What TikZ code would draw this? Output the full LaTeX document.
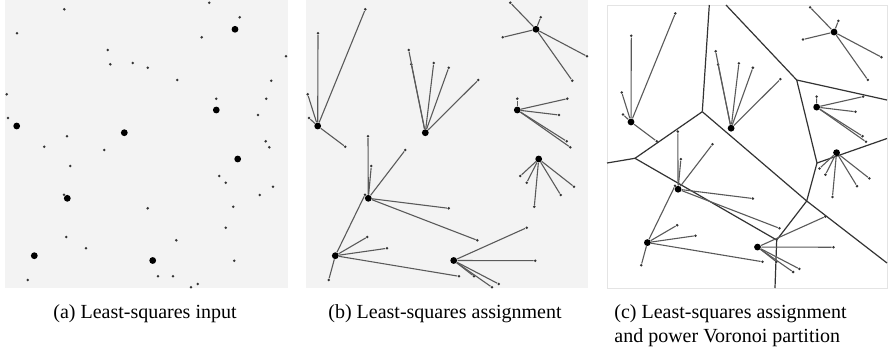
\documentclass[tikz,border=0pt]{standalone}
\usepackage{fontspec}
\setmainfont{Liberation Serif}
\usetikzlibrary{positioning}
\definecolor{panelgray}{RGB}{243,243,243}
\definecolor{framegray}{RGB}{228,228,228}
\definecolor{linkgray}{RGB}{90,90,90}
\tikzset{
  panel/.style={fill=panelgray, draw=none},
  whitepanel/.style={fill=white, draw=framegray, line width=0.4pt},
  site/.style={circle, fill=black, inner sep=0pt, minimum size=3.4pt},
  sample/.style={circle, fill=black!80, inner sep=0pt, minimum size=1.4pt},
  link/.style={draw=linkgray, line width=0.55pt},
  cell/.style={draw=black!80, line width=0.6pt},
  caption/.style={font=\fontsize{10}{12}\selectfont, inner sep=0pt, align=left},
}
\newcommand{\placesamples}{%
  \foreach \s/\k/\x/\y in {1/1/17/33.3, 1/2/64.3/9.3, 1/3/6.7/94.3, 1/4/8/118, 1/5/44.3/146.7,
      2/1/107.7/50, 2/2/110.3/64.3, 2/3/132.7/63, 2/4/147.7/67.7, 2/5/177.3/80,
      3/1/209.3/2.7, 3/2/239.7/17.3, 3/3/201.7/37.3, 3/4/286/56.3, 3/5/271.3/80.7,
      4/1/216.3/98.7, 4/2/266.3/98.7, 4/3/258/115, 4/4/265.7/141.3, 4/5/269.3/147.3,
      5/1/219.3/176, 5/2/225.7/182.7, 5/3/273/186.7, 5/4/259.7/195, 5/5/233.3/206.7,
      6/1/67/136.3, 6/2/70.3/166, 6/3/104.3/150, 6/4/147.7/208.3, 6/5/176.3/240.3,
      7/1/64/194.7, 7/2/66.3/237, 7/3/86/248.3, 7/4/27.7/280, 7/5/158/276.3,
      8/1/225.7/227.7, 8/2/234.3/260.7, 8/3/197.7/284, 8/4/191/287.3, 8/5/173/276.3}
    \node[sample] (p\s\k) at (\x,\y) {};
}
\newcommand{\placesites}{%
  \foreach \s/\x/\y in {1/16.7/126, 2/124.3/132.7, 3/235/29.3, 4/216.3/110,
      5/237.7/159, 6/67.3/198.3, 7/34.3/255.7, 8/152.7/260.5}
    \node[site] (s\s) at (\x,\y) {};
}
\newcommand{\drawlinks}{%
  \foreach \s in {1,...,8}
    \foreach \k in {1,...,5}
      \draw[link] (s\s) -- (p\s\k);
}

\begin{document}
\begin{tikzpicture}[x=0.5pt, y=-0.5pt]
  \useasboundingbox (0,0) rectangle (890,354);

  \fill[panel] (5,0) rectangle (288,288);
  \fill[panel] (306,0) rectangle (588,288);
  \draw[whitepanel] (607,5) rectangle (887,288);

  \begin{scope}[name prefix=a-]
    \placesamples
    \placesites
  \end{scope}

  \begin{scope}[shift={(301,0)}, name prefix=b-]
    \placesamples
    \placesites
    \drawlinks
  \end{scope}

  \coordinate (t1) at (709.3,5);
  \coordinate (t2) at (726,5);
  \coordinate (l1) at (607,163);
  \coordinate (r1) at (887,100);
  \coordinate (r2) at (887,138.5);
  \coordinate (r3) at (887,263);
  \coordinate (bt) at (775,288);
  \coordinate (v1) at (702.3,111.7);
  \coordinate (v2) at (635,158.3);
  \coordinate (v3) at (796.7,80);
  \coordinate (v4) at (806.7,201);
  \coordinate (v5) at (817,163);
  \coordinate (v6) at (776.7,240);

  \draw[cell] (t1) -- (v1);
  \draw[cell] (v1) -- (v2);
  \draw[cell] (v2) -- (l1);
  \draw[cell] (v2) -- (v6);
  \draw[cell] (v6) -- (bt);
  \draw[cell] (v6) -- (v4);
  \draw[cell] (v1) -- (v4);
  \draw[cell] (v4) -- (r3);
  \draw[cell] (v4) -- (v5);
  \draw[cell] (v5) -- (r2);
  \draw[cell] (v5) -- (v3);
  \draw[cell] (v3) -- (r1);
  \draw[cell] (v3) -- (t2);

  \begin{scope}[shift={(615.5,4.8)}, scale=0.93, name prefix=c-]
    \placesamples
    \placesites
    \drawlinks
  \end{scope}

  \node[caption, anchor=north] (cap-a) at (145,304) {(a) Least-squares input};
  \node[caption, anchor=north] (cap-b) at (445,304) {(b) Least-squares assignment};
  \node[caption, anchor=north west] (cap-c) at (614,304) {(c) Least-squares assignment\\and power Voronoi partition};
\end{tikzpicture}
\end{document}
